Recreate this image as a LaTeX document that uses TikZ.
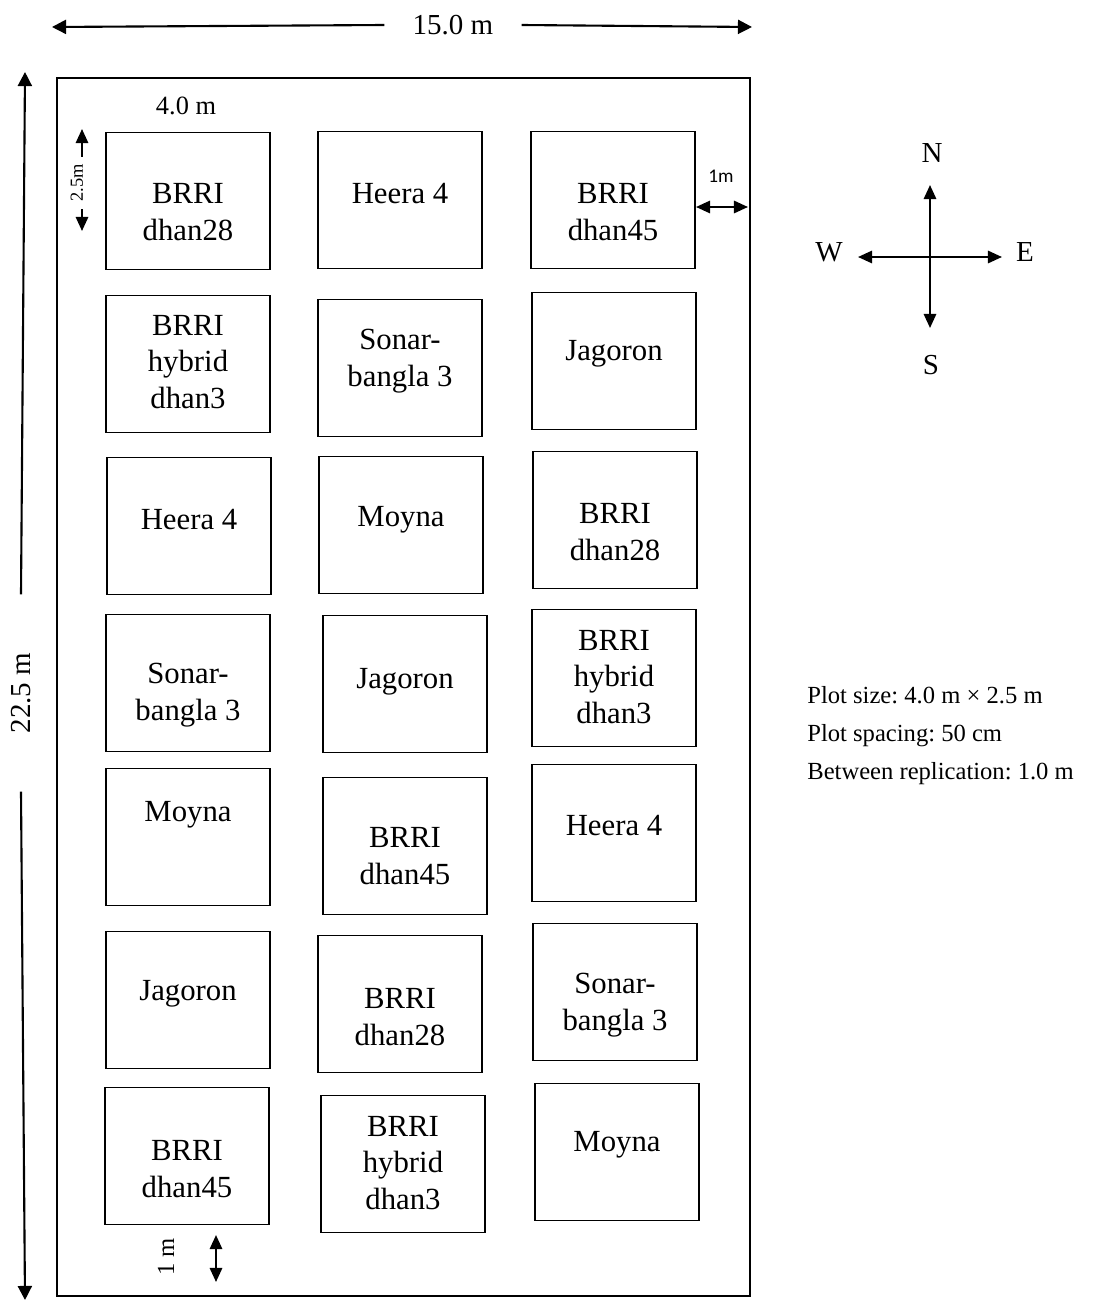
\documentclass[tikz,border=0pt]{standalone}
\usepackage{fontspec}
\setmainfont{Liberation Serif}
\newfontfamily\calfont{Carlito}
\usetikzlibrary{arrows.meta}
\frenchspacing

\begin{document}
\begin{tikzpicture}[x=0.02cm,y=-0.02cm,
  plot/.style={draw,line width=1.1pt,minimum width=3.28cm,minimum height=2.74cm,inner sep=0pt},
  crop/.style={align=center,inner sep=0pt,font=\fontsize{17.5}{21}\selectfont},
  dimtext/.style={inner sep=0pt,font=\fontsize{16.5}{19}\selectfont},
  dim/.style={line width=1.2pt,-{Triangle[length=8pt,width=8pt]}},
  small/.style={line width=1.2pt,{Triangle[length=8pt,width=7pt]}-{Triangle[length=8pt,width=7pt]}},
  compass/.style={line width=1.2pt,{Triangle[length=8pt,width=7pt]}-{Triangle[length=8pt,width=7pt]}},
  note/.style={anchor=base west,inner sep=0pt,font=\fontsize{14}{17}\selectfont}]
\useasboundingbox (0,0) rectangle (1105,1301);
% field
\draw[line width=1.1pt] (57,78) rectangle (750,1296);
% overall size
\node[dimtext,inner xsep=16pt] (wd) at (453,25) {15.0 m};
\coordinate (wl) at (52,27);
\coordinate (wr) at (752,27);
\draw[dim] (wd.west) -- (wl);
\draw[dim] (wd.east) -- (wr);
\node[dimtext,rotate=90,inner xsep=33pt] (hd) at (21,693) {22.5 m};
\coordinate (ht) at (25,72);
\coordinate (hb) at (25,1300);
\draw[dim] (hd.east) -- (ht);
\draw[dim] (hd.west) -- (hb);
% plot size and spacing
\node[inner sep=0pt,font=\fontsize{15}{17}\selectfont] (pw) at (186,106) {4.0 m};
\node[inner sep=0pt,inner xsep=4pt,rotate=90,font=\fontsize{10.5}{12}\selectfont] (ph) at (77,183) {2.5m};
\coordinate (pht) at (82,129);
\coordinate (phb) at (82,231);
\draw[line width=1.2pt,{Triangle[length=8pt,width=7pt]}-] (pht) -- (pht |- ph.east);
\draw[line width=1.2pt,-{Triangle[length=8pt,width=7pt]}] (phb |- ph.west) -- (phb);
\node[inner sep=0pt,font=\calfont\fontsize{11}{12}\selectfont] (ew) at (721,176) {1m};
\coordinate (ewl) at (696,207);
\coordinate (ewr) at (748,207);
\draw[small] (ewl) -- (ewr);
\node[inner sep=0pt,rotate=90,font=\fontsize{14}{16}\selectfont] (bw) at (166,1257) {1 m};
\coordinate (bwt) at (216,1235);
\coordinate (bwb) at (216,1282);
\draw[small] (bwt) -- (bwb);

% first column
\node[plot] (p11) at (188,201) {};
\node[crop] (t11) at (188,212) {BRRI\\dhan28};
\node[plot] (p12) at (188,364) {};
\node[crop] (t12) at (188,362) {BRRI\\hybrid\\dhan3};
\node[plot] (p13) at (189,526) {};
\node[crop] (t13) at (189,520) {Heera 4};
\node[plot] (p14) at (188,683) {};
\node[crop] (t14) at (188,695) {Sonar-\\bangla 3};
\node[plot] (p15) at (188,837) {};
\node[crop] (t15) at (188,815) {Moyna};
\node[plot] (p16) at (188,1000) {};
\node[crop] (t16) at (188,994) {Jagoron};
\node[plot] (p17) at (187,1156) {};
\node[crop] (t17) at (187,1169) {BRRI\\dhan45};
% second column
\node[plot] (p21) at (400,200) {};
\node[crop] (t21) at (400,194) {Heera 4};
\node[plot] (p22) at (400,368) {};
\node[crop] (t22) at (400,361) {Sonar-\\bangla 3};
\node[plot] (p23) at (401,525) {};
\node[crop] (t23) at (401,520) {Moyna};
\node[plot] (p24) at (405,684) {};
\node[crop] (t24) at (405,682) {Jagoron};
\node[plot] (p25) at (405,846) {};
\node[crop] (t25) at (405,856) {BRRI\\dhan45};
\node[plot] (p26) at (400,1004) {};
\node[crop] (t26) at (400,1017) {BRRI\\dhan28};
\node[plot] (p27) at (403,1164) {};
\node[crop] (t27) at (403,1163) {BRRI\\hybrid\\dhan3};
% third column
\node[plot] (p31) at (613,200) {};
\node[crop] (t31) at (613,212) {BRRI\\dhan45};
\node[plot] (p32) at (614,361) {};
\node[crop] (t32) at (614,354) {Jagoron};
\node[plot] (p33) at (615,520) {};
\node[crop] (t33) at (615,532) {BRRI\\dhan28};
\node[plot] (p34) at (614,678) {};
\node[crop] (t34) at (614,677) {BRRI\\hybrid\\dhan3};
\node[plot] (p35) at (614,833) {};
\node[crop] (t35) at (614,826) {Heera 4};
\node[plot] (p36) at (615,992) {};
\node[crop] (t36) at (615,1005) {Sonar-\\bangla 3};
\node[plot] (p37) at (617,1152) {};
\node[crop] (t37) at (617,1145) {Moyna};

% compass
\node[dimtext] (cn) at (932,153) {N};
\node[dimtext] (cs) at (931,365) {S};
\node[dimtext] (cw) at (829,252) {W};
\node[dimtext] (ce) at (1025,252) {E};
\coordinate (cnt) at (930,185);
\coordinate (cst) at (930,328);
\coordinate (cwt) at (858,257);
\coordinate (cet) at (1002,257);
\draw[compass] (cwt) -- (cet);
\draw[compass] (cst) -- (cnt);

% notes
\node[note] (n1) at (807,703) {Plot size: 4.0 m × 2.5 m};
\node[note] (n2) at (807,741) {Plot spacing: 50 cm};
\node[note] (n3) at (807,779) {Between replication: 1.0 m};
\end{tikzpicture}
\end{document}
